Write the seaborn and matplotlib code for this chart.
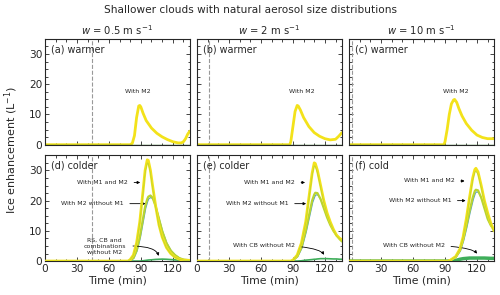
import numpy as np
import pandas as pd
import matplotlib
matplotlib.use("Agg")
import matplotlib.pyplot as plt
from matplotlib.ticker import MultipleLocator
import seaborn as sns

sns.set_style("ticks")
plt.rcParams['font.family'] = ['DejaVu Sans']

# --- values ---
# warmer cases, "With M2" only
t_a = [0, 80, 82, 84, 86, 88, 89, 90, 92, 95, 100, 105, 110, 115, 120, 125, 128, 130, 132, 134, 136]
y_a = [0, 0, 0.5, 3, 9, 12.8, 13, 12.5, 10.5, 8, 5.5, 3.8, 2.6, 1.7, 1.0, 0.6, 0.6, 1.0, 2.0, 3.5, 4.5]
t_b = [0, 87, 88, 90, 92, 94, 95, 97, 100, 105, 110, 115, 120, 125, 130, 133, 136]
y_b = [0, 0, 1, 6, 11, 13, 12.8, 11.5, 9, 6, 4, 2.8, 2.0, 1.6, 1.8, 2.8, 4.0]
t_c = [0, 89, 90, 92, 94, 96, 98, 99, 101, 103, 106, 110, 115, 120, 125, 130, 136]
y_c = [0, 0, 1, 5, 10, 13.5, 14.8, 15, 14, 12, 9.5, 7, 4.8, 3.2, 2.4, 2.0, 2.0]

# colder cases
t_d = [0, 78, 80, 83, 86, 89, 92, 94, 96, 97, 99, 101, 104, 107, 110, 114, 118, 122, 126, 130, 136]
d_m1m2 = [0, 0, 0.5, 2, 6, 13, 23, 30, 33.5, 33.3, 30, 25, 18, 12, 8, 4.5, 2.5, 1.3, 0.6, 0.3, 0.2]
d_m2 = [0, 0, 0.2, 1, 3.5, 8, 14, 18, 20.5, 21.3, 21.7, 21, 18, 14, 10, 6, 3.5, 2, 1, 0.5, 0.3]
d_other = [0, 0, 0, 0, 0, 0, 0.1, 0.2, 0.3, 0.35, 0.4, 0.45, 0.55, 0.6, 0.65, 0.6, 0.5, 0.4, 0.3, 0.2, 0.1]

t_e = [0, 88, 90, 94, 98, 102, 105, 108, 110, 111, 113, 116, 119, 122, 125, 128, 131, 134, 136]
e_m1m2 = [0, 0, 0.3, 2, 6, 13, 21, 29, 32.5, 32.3, 30, 25, 20, 16, 13, 10.5, 8.5, 7.5, 7]
e_m2 = [0, 0, 0.3, 1.5, 4.5, 10, 15, 20, 22, 22.6, 22.5, 20.5, 17.5, 14.5, 12, 10, 8.5, 7.2, 6.5]
e_other = [0, 0, 0, 0, 0.1, 0.3, 0.4, 0.5, 0.6, 0.6, 0.7, 0.8, 0.8, 0.8, 0.75, 0.7, 0.7, 0.6, 0.6]

t_f = [0, 93, 95, 100, 104, 107, 110, 113, 116, 118, 119, 121, 124, 127, 130, 133, 136]
f_m1m2 = [0, 0, 0.3, 1.5, 4, 8, 14, 21, 27.5, 30.3, 30.7, 29.5, 25, 20, 16, 12.5, 10]
f_m2 = [0, 0, 0.3, 1.3, 3.5, 7, 11.5, 16.5, 21, 23.2, 23.6, 23.4, 21, 17.5, 14, 11.8, 10.5]
f_other = [0, 0, 0, 0.2, 0.6, 0.8, 0.9, 1.0, 1.0, 1.0, 1.0, 1.0, 1.0, 1.0, 0.95, 0.9, 0.9]

dashed_t = [44, 11, 3]
col_titles = [r"$w$ = 0.5 m s$^{-1}$", r"$w$ = 2 m s$^{-1}$", r"$w$ = 10 m s$^{-1}$"]
panel_labels = ["(a) warmer", "(b) warmer", "(c) warmer",
                "(d) colder", "(e) colder", "(f) cold"]

YELLOW = "#f3e21a"
YGREEN = "#b9d431"
BLUE = "#4f9fc8"
DGREEN = "#3b7a2a"
CBGREEN = "#3fae5a"

fig = plt.figure(figsize=(5.0, 2.95), dpi=100)
gs = fig.add_gridspec(2, 3, left=0.09, right=0.988, top=0.868, bottom=0.115,
                      wspace=0.05, hspace=0.10)
axes = [[fig.add_subplot(gs[r, c]) for c in range(3)] for r in range(2)]


def line(ax, t, y, color, lw, z=2):
    sns.lineplot(x=t, y=y, ax=ax, color=color, linewidth=lw, zorder=z,
                 estimator=None, sort=False)


# top row
for ax, t, y in zip(axes[0], [t_a, t_b, t_c], [y_a, y_b, y_c]):
    line(ax, t, y, YELLOW, 2.0)
    line(ax, [0, 136], [0, 0], DGREEN, 1.0, z=3)

# bottom row
bottom = [(t_d, d_m1m2, d_m2, d_other), (t_e, e_m1m2, e_m2, e_other),
          (t_f, f_m1m2, f_m2, f_other)]
for i, (ax, (t, m12, m2, oth)) in enumerate(zip(axes[1], bottom)):
    line(ax, t, oth, CBGREEN, 2.5 if i == 2 else 1.2, z=2)
    line(ax, [x + 0.6 for x in t], [v * 0.97 for v in m2], BLUE, 0.8, z=2)
    line(ax, t, m2, YGREEN, 1.6, z=3)
    line(ax, t, m12, YELLOW, 2.0, z=4)
    line(ax, t, [v * 0.97 for v in m12], YGREEN, 0.5, z=4)

for r in range(2):
    for c in range(3):
        ax = axes[r][c]
        ax.axvline(dashed_t[c], color="#999999", linestyle="--", linewidth=0.8, zorder=1)
        ax.set_xlim(0, 136)
        ax.set_ylim(0, 35)
        ax.xaxis.set_major_locator(MultipleLocator(30))
        ax.xaxis.set_minor_locator(MultipleLocator(10))
        ax.yaxis.set_major_locator(MultipleLocator(10))
        ax.yaxis.set_minor_locator(MultipleLocator(2.5))
        ax.tick_params(which="both", direction="in", top=True, right=True,
                       labelsize=7.6, pad=2, width=0.6)
        ax.tick_params(which="major", length=3)
        ax.tick_params(which="minor", length=1.8)
        for s in ax.spines.values():
            s.set_linewidth(0.8)
        ax.set_xlabel("")
        ax.set_ylabel("")
        if r == 0:
            ax.set_xticklabels([])
            ax.set_title(col_titles[c], fontsize=7.2, pad=3)
        else:
            ax.set_xlabel("Time (min)", fontsize=7.8, labelpad=1)
        if c > 0:
            ax.set_yticklabels([])
        ax.text(0.04, 0.95, panel_labels[r * 3 + c], transform=ax.transAxes,
                fontsize=6.9, va="top", ha="left")

# annotations
for ax, x in zip(axes[0], [87, 98, 100]):
    ax.text(x, 17.5, "With M2", fontsize=4.5, ha="center", va="center")

fs = 4.5
arr = dict(arrowstyle="-|>", color="black", lw=0.6, mutation_scale=4)
curved = dict(arr, connectionstyle="angle3,angleA=0,angleB=-90")
ax = axes[1][0]
ax.annotate("With M1 and M2", xy=(92, 26), xytext=(78, 26), fontsize=fs,
            ha="right", va="center", arrowprops=arr)
ax.annotate("With M2 without M1", xy=(97, 19), xytext=(74, 19), fontsize=fs,
            ha="right", va="center", arrowprops=arr)
ax.text(56, 4.8, "RS, CB and\ncombinations\nwithout M2", fontsize=fs,
        ha="center", va="center", linespacing=1.3)
ax.annotate("", xy=(107, 0.8), xytext=(80, 5), arrowprops=curved)
ax = axes[1][1]
ax.annotate("With M1 and M2", xy=(104, 26), xytext=(92, 26), fontsize=fs,
            ha="right", va="center", arrowprops=arr)
ax.annotate("With M2 without M1", xy=(105, 19), xytext=(86, 19), fontsize=fs,
            ha="right", va="center", arrowprops=arr)
ax.annotate("With CB without M2", xy=(120, 1.2), xytext=(92, 5.3), fontsize=fs,
            ha="right", va="center", arrowprops=curved)
ax = axes[1][2]
ax.annotate("With M1 and M2", xy=(111, 26.5), xytext=(99, 26.5), fontsize=fs,
            ha="right", va="center", arrowprops=arr)
ax.annotate("With M2 without M1", xy=(112, 20), xytext=(96, 20), fontsize=fs,
            ha="right", va="center", arrowprops=arr)
ax.annotate("With CB without M2", xy=(121, 1.6), xytext=(90, 5.3), fontsize=fs,
            ha="right", va="center", arrowprops=curved)

fig.text(0.5, 0.966, "Shallower clouds with natural aerosol size distributions",
         fontsize=7.6, ha="center", va="center")
fig.text(0.022, 0.49, r"Ice enhancement (L$^{-1}$)", fontsize=8, rotation=90,
         ha="center", va="center")

fig.savefig("out.png", dpi=100)
